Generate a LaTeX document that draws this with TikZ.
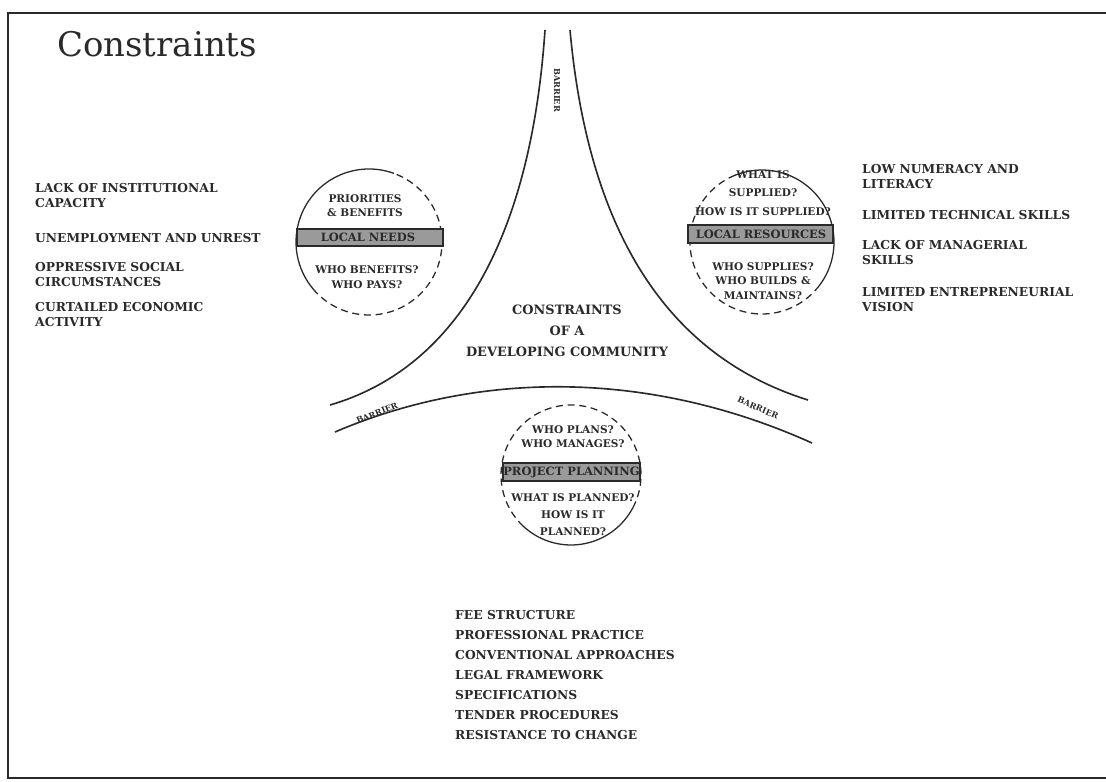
\documentclass[tikz,border=0pt]{standalone}
\usepackage{fontspec}
\setmainfont{DejaVu Serif}
\usetikzlibrary{positioning}
\definecolor{ink}{HTML}{2A2A2A}
\definecolor{bandgray}{HTML}{9A9A9A}

\begin{document}
\begin{tikzpicture}[x=0.3mm, y=0.3mm,
    item/.style={anchor=west, align=left, inner sep=0pt, text=ink, font=\bfseries\fontsize{10.5}{12.8}\selectfont},
    ring/.style={line width=1.1pt, draw=ink},
    ringtext/.style={align=center, inner sep=0pt, text=ink, font=\bfseries\fontsize{9}{12.5}\selectfont},
    bartext/.style={inner sep=0pt, text=ink, font=\bfseries\fontsize{9.8}{10}\selectfont},
    bar/.style={draw=ink, line width=1.2pt, fill=bandgray},
    barrier/.style={inner sep=0pt, text=ink, font=\bfseries\fontsize{7}{7}\selectfont},
    curve/.style={line width=1.4pt, draw=ink}]
    \useasboundingbox (0,0) rectangle (1106,-782);
    \draw[line width=1.8pt, draw=ink] (1106,-13) -- (8,-13) -- (8,-778) -- (1106,-778);

    \node[anchor=west, inner sep=0pt, text=ink, font=\fontsize{29}{29}\selectfont] (title) at (57,-44) {Constraints};

    \draw[curve] (545,-30) .. controls (530,-250) and (450,-370) .. (330,-405);
    \draw[curve] (570,-30) .. controls (590,-250) and (680,-360) .. (808,-400);
    \draw[curve] (335,-432) .. controls (480,-370) and (650,-370) .. (812,-443);

    \node[barrier, rotate=-90] (btop) at (557,-90) {BARRIER};
    \node[barrier, rotate=22] (bleft) at (377,-413) {BARRIER};
    \node[barrier, rotate=-24] (bright) at (758,-408) {BARRIER};

    \node[ringtext, font=\bfseries\fontsize{11}{18}\selectfont] (core) at (567,-331) {CONSTRAINTS\\OF A\\DEVELOPING COMMUNITY};

    \coordinate (needs) at (369,-242);
    \draw[ring] (needs) ++(70:73) arc[start angle=70, end angle=220, radius=73];
    \draw[ring, dash pattern=on 6pt off 4pt] (needs) ++(220:73) arc[start angle=220, end angle=430, radius=73];
    \draw[bar] (297,-229) rectangle (443,-246);
    \node[bartext] (needsbar) at (368,-237.5) {LOCAL NEEDS};
    \node[ringtext] (needsup) at (365,-205.5) {PRIORITIES\\\& BENEFITS};
    \node[ringtext] (needsdown) at (367,-277) {WHO BENEFITS?\\WHO PAYS?};

    \coordinate (res) at (762,-242);
    \draw[ring] (res) ++(-40:72) arc[start angle=-40, end angle=112, radius=72];
    \draw[ring, dash pattern=on 6pt off 4pt] (res) ++(112:72) arc[start angle=112, end angle=320, radius=72];
    \draw[bar] (688,-225) rectangle (833,-243);
    \node[bartext] (resbar) at (761,-234) {LOCAL RESOURCES};
    \node[ringtext, font=\bfseries\fontsize{9}{16}\selectfont] (resup) at (763,-193) {WHAT IS\\SUPPLIED?\\HOW IS IT SUPPLIED?};
    \node[ringtext] (resdown) at (763,-281) {WHO SUPPLIES?\\WHO BUILDS \&\\MAINTAINS?};

    \coordinate (plan) at (571,-475);
    \draw[ring] (plan) ++(223:70) arc[start angle=223, end angle=332, radius=70];
    \draw[ring, dash pattern=on 6pt off 4pt] (plan) ++(-28:70) arc[start angle=-28, end angle=223, radius=70];
    \draw[bar] (503,-463) rectangle (640,-481);
    \node[bartext] (planbar) at (571.5,-472) {PROJECT PLANNING};
    \node[ringtext] (planup) at (573,-436.5) {WHO PLANS?\\WHO MANAGES?};
    \node[ringtext, font=\bfseries\fontsize{9}{14.5}\selectfont] (plandown) at (573,-515) {WHAT IS PLANNED?\\HOW IS IT\\PLANNED?};

    \node[item] (l1) at (35,-196) {LACK OF INSTITUTIONAL\\CAPACITY};
    \node[item] (l2) at (35,-238) {UNEMPLOYMENT AND UNREST};
    \node[item] (l3) at (35,-275) {OPPRESSIVE SOCIAL\\CIRCUMSTANCES};
    \node[item] (l4) at (35,-315) {CURTAILED ECONOMIC\\ACTIVITY};

    \node[item] (r1) at (862,-177) {LOW NUMERACY AND\\LITERACY};
    \node[item] (r2) at (862,-215) {LIMITED TECHNICAL SKILLS};
    \node[item] (r3) at (862,-253) {LACK OF MANAGERIAL\\SKILLS};
    \node[item] (r4) at (862,-300) {LIMITED ENTREPRENEURIAL\\VISION};

    \node[item, font=\bfseries\fontsize{10.5}{17}\selectfont] (practice) at (455,-675) {FEE STRUCTURE\\PROFESSIONAL PRACTICE\\CONVENTIONAL APPROACHES\\LEGAL FRAMEWORK\\SPECIFICATIONS\\TENDER PROCEDURES\\RESISTANCE TO CHANGE};
\end{tikzpicture}
\end{document}
